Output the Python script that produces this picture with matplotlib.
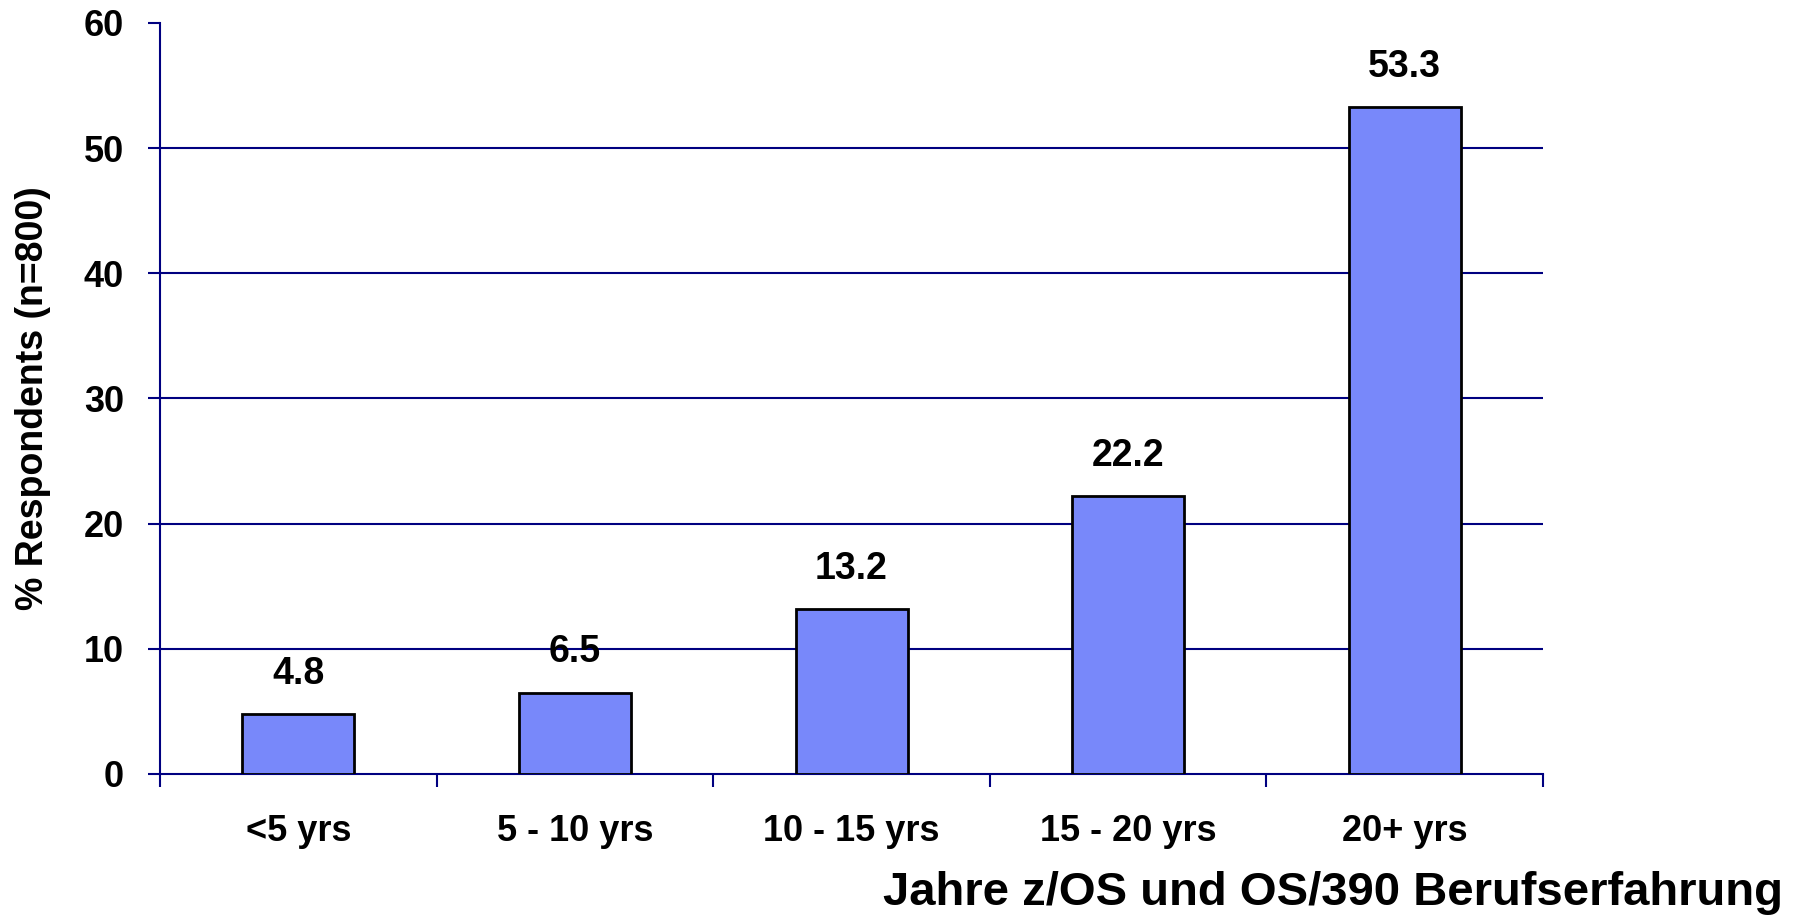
import matplotlib
matplotlib.use('Agg')
import matplotlib.pyplot as plt
import numpy as np

# Survey data
categories = ['<5 yrs', '5 - 10 yrs', '10 - 15 yrs', '15 - 20 yrs', '20+ yrs']
percent = [4.8, 6.5, 13.2, 22.2, 53.3]
y_ticks = [0, 10, 20, 30, 40, 50, 60]

BAR_COLOR = '#7888FA'
NAVY = '#000080'

plt.rcParams['font.family'] = ['Liberation Sans', 'DejaVu Sans']
plt.rcParams['font.weight'] = 'bold'

fig = plt.figure(figsize=(18.06, 9.17), dpi=100)
ax = fig.add_axes([0.0886, 0.156, 0.7658, 0.819])

x = np.arange(len(categories))
ax.bar(x, percent, width=0.405, color=BAR_COLOR, edgecolor='black', linewidth=2, zorder=3)

# value labels above each bar
for xi, v in zip(x, percent):
    ax.annotate(f'{v:.1f}', (xi, v), xytext=(0, 16), textcoords='offset points',
                ha='center', va='bottom', fontsize=27, fontweight='bold', zorder=4)

ax.set_xlim(-0.5, len(categories) - 0.5)
ax.set_ylim(0, 60)
ax.set_yticks(y_ticks)
ax.set_yticklabels([str(t) for t in y_ticks], fontsize=26, fontweight='bold')

# x ticks sit between categories, labels centred under bars
ax.set_xticks(np.arange(-0.5, len(categories)), minor=False)
ax.set_xticklabels([])
ax.set_xticks(x, minor=True)
ax.set_xticklabels(categories, minor=True, fontsize=26, fontweight='bold')
ax.tick_params(axis='x', which='minor', length=0, pad=29)
ax.tick_params(axis='x', which='major', length=9, width=1.5, color=NAVY, direction='out')
ax.tick_params(axis='y', length=9, width=1.5, color=NAVY, direction='out', pad=17)

for yv in y_ticks[1:-1]:
    ax.axhline(yv, color=NAVY, linewidth=1.5, zorder=1)

for side in ['top', 'right']:
    ax.spines[side].set_visible(False)
for side in ['left', 'bottom']:
    ax.spines[side].set_color(NAVY)
    ax.spines[side].set_linewidth(1.5)

ax.set_ylabel('% Respondents (n=800)', fontsize=27, fontweight='bold', va='center')
ax.yaxis.set_label_coords(-0.0918, 0.5)
fig.text(0.987, 0.013, 'Jahre z/OS und OS/390 Berufserfahrung', ha='right', va='baseline',
         fontsize=34, fontweight='bold')

fig.savefig('out.png', dpi=100)
